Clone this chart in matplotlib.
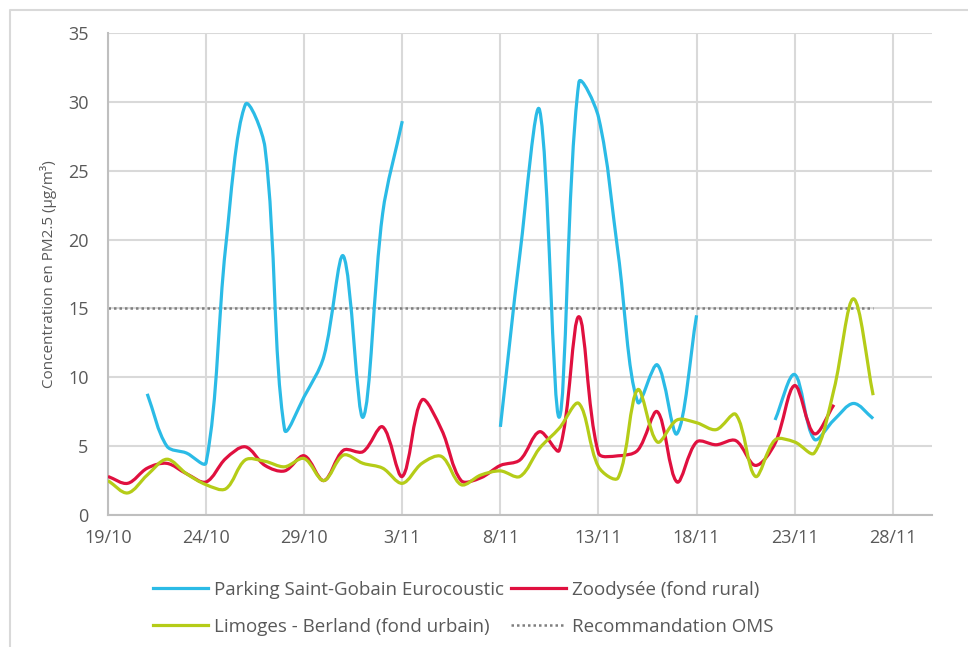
import numpy as np
import matplotlib
matplotlib.use("Agg")
import matplotlib.pyplot as plt
from matplotlib.path import Path
from matplotlib.patches import PathPatch
from matplotlib.lines import Line2D

# ── Données journalières PM2.5 (µg/m³), jour 0 = 19/10 ────────────────────────
PARKING_SEGMENTS = [
    (2, [8.8, 5.0, 4.5, 3.8, 19.5, 29.8, 26.7, 6.2, 8.6, 11.5, 18.8, 7.1, 21.9, 28.6]),
    (20, [6.4, 19.0, 29.4, 7.1, 31.4, 28.9, 19.0, 8.2, 10.9, 5.9, 14.5]),
    (34, [6.9, 10.2, 5.5, 6.9, 8.1, 7.0]),
]
ZOODYSEE = [2.8, 2.3, 3.4, 3.75, 3.0, 2.4, 4.1, 4.95, 3.6, 3.2, 4.3, 2.5, 4.7, 4.6,
            6.4, 2.8, 8.35, 6.2, 2.5, 2.7, 3.6, 4.0, 6.05, 4.7, 14.4, 4.5, 4.3, 4.7,
            7.5, 2.4, 5.3, 5.1, 5.4, 3.6, 5.2, 9.4, 5.9, 8.0]
LIMOGES = [2.5, 1.6, 2.9, 4.05, 3.0, 2.2, 1.9, 4.0, 3.9, 3.5, 4.1, 2.5, 4.35, 3.75,
           3.4, 2.3, 3.75, 4.25, 2.2, 2.9, 3.2, 2.8, 4.85, 6.3, 8.1, 3.5, 2.7, 9.1,
           5.3, 6.9, 6.7, 6.2, 7.3, 2.8, 5.45, 5.3, 4.5, 9.1, 15.7, 8.7]
OMS_LEVEL = 15
OMS_DAYS = (0, 39)

TICK_DAYS = [0, 5, 10, 15, 20, 25, 30, 35, 40]
TICK_LABELS = ["19/10", "24/10", "29/10", "3/11", "8/11", "13/11", "18/11", "23/11", "28/11"]

C_PARKING = "#2bbbe6"
C_ZOO = "#e0103f"
C_LIM = "#b5cc18"
C_TEXT = "#595959"
C_GRID = "#d9d9d9"
LW = 2.3

# échelle écran approximative (px par jour, px par µg/m³) pour le lissage
SX, SY = 19.6, 13.77

plt.rcParams["font.family"] = ["Open Sans", "DejaVu Sans"]


def smooth_path(x, y):
    """Courbe lissée type tableur : Bézier cubiques, tangentes pondérées par les cordes."""
    x = np.asarray(x, float)
    y = np.asarray(y, float)
    n = len(x)
    pts = np.column_stack([x, y])
    scr = pts * [SX, SY]
    d = np.hypot(*np.diff(scr, axis=0).T)  # longueur des segments
    out_ctrl, in_ctrl = [], []
    for i in range(n):
        prev_p = pts[i - 1] if i > 0 else pts[i]
        next_p = pts[i + 1] if i < n - 1 else pts[i]
        tan = next_p - prev_p
        dm = d[i - 1] if i > 0 else 0.0
        dp = d[i] if i < n - 1 else 0.0
        tot = dm + dp if dm + dp > 0 else 1.0
        out_ctrl.append(pts[i] + tan * dp / tot / 3)
        in_ctrl.append(pts[i] - tan * dm / tot / 3)
    verts = [tuple(pts[0])]
    codes = [Path.MOVETO]
    for i in range(n - 1):
        verts += [tuple(out_ctrl[i]), tuple(in_ctrl[i + 1]), tuple(pts[i + 1])]
        codes += [Path.CURVE4] * 3
    return Path(verts, codes)


def draw_smooth(ax, x, y, color):
    ax.add_patch(PathPatch(smooth_path(x, y), facecolor="none", edgecolor=color,
                           lw=LW, capstyle="butt", joinstyle="round", zorder=3))


fig = plt.figure(figsize=(9.68, 6.47), dpi=100)
ax = fig.add_axes([108 / 968, 1 - 515 / 647, (932 - 108) / 968, (515 - 33) / 647])

for start, vals in PARKING_SEGMENTS:
    draw_smooth(ax, np.arange(start, start + len(vals)), vals, C_PARKING)
draw_smooth(ax, np.arange(len(ZOODYSEE)), ZOODYSEE, C_ZOO)
draw_smooth(ax, np.arange(len(LIMOGES)), LIMOGES, C_LIM)
ax.plot(OMS_DAYS, [OMS_LEVEL, OMS_LEVEL], color="#7f7f7f", lw=1.8,
        ls=(0, (1, 1.2)), zorder=2)

ax.set_xlim(0, 42)
ax.set_ylim(0, 35)
ax.set_xticks(TICK_DAYS)
ax.set_xticklabels(TICK_LABELS)
ax.set_yticks(range(0, 36, 5))
ax.grid(True, color=C_GRID, lw=1.5, zorder=0)
ax.set_axisbelow(True)
for side in ["top", "right"]:
    ax.spines[side].set_visible(False)
for side in ["left", "bottom"]:
    ax.spines[side].set_color("#bfbfbf")
    ax.spines[side].set_linewidth(1.5)
ax.tick_params(length=0, colors=C_TEXT, labelsize=13, pad=10)
ax.tick_params(axis="y", pad=14)
ax.set_ylabel("Concentration en PM2.5 (µg/m³)", color=C_TEXT, fontsize=11, labelpad=8)

# ordre en colonnes -> lignes : Parking / Zoodysée puis Limoges / OMS
handles = [
    Line2D([], [], color=C_PARKING, lw=LW),
    Line2D([], [], color=C_LIM, lw=LW),
    Line2D([], [], color=C_ZOO, lw=LW),
    Line2D([], [], color="#7f7f7f", lw=1.8, ls=(0, (1, 1.2))),
]
labels = ["Parking Saint-Gobain Eurocoustic", "Limoges - Berland (fond urbain)",
          "Zoodysée (fond rural)", "Recommandation OMS"]
fig.legend(handles, labels, ncol=2, loc="upper left",
           bbox_to_anchor=(136 / 968, 1 - 564 / 647), frameon=False,
           fontsize=13.5, labelcolor=C_TEXT, handlelength=2.93, handletextpad=0.32,
           columnspacing=0.37, labelspacing=1.0)

# cadre extérieur (haut et gauche)
fig.add_artist(Line2D([10 / 968, 10 / 968, 1], [0, 1 - 10 / 647, 1 - 10 / 647],
                      transform=fig.transFigure, color="#d9d9d9", lw=1.5))

fig.savefig("out.png", dpi=100)
